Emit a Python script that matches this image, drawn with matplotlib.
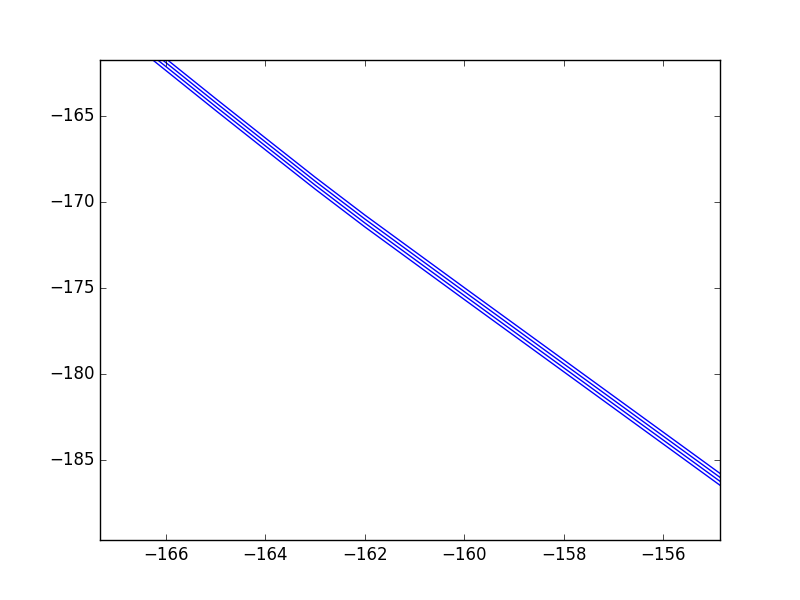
import matplotlib
matplotlib.use("Agg")
import matplotlib.pyplot as plt

plt.style.use("classic")

# x positions shared by all four curves
x_vals = [-167, -166, -165, -164, -163, -162, -161, -160, -159, -158, -157, -156, -155, -154]

# four nearly parallel curves
y_line1 = [-159.34, -161.66, -163.98, -166.27, -168.55, -170.75, -172.86,
           -174.97, -177.07, -179.17, -181.27, -183.37, -185.47, -187.57]
y_line2 = [-159.57, -161.89, -164.21, -166.50, -168.78, -170.98, -173.09,
           -175.20, -177.30, -179.40, -181.50, -183.60, -185.70, -187.80]
y_line3 = [-159.80, -162.12, -164.44, -166.73, -169.01, -171.21, -173.32,
           -175.43, -177.53, -179.63, -181.73, -183.83, -185.93, -188.03]
y_line4 = [-160.03, -162.35, -164.67, -166.96, -169.24, -171.44, -173.55,
           -175.66, -177.76, -179.86, -181.96, -184.06, -186.16, -188.26]

fig = plt.figure(figsize=(8, 6), dpi=100)
ax = fig.add_subplot(111)

for ys in (y_line1, y_line2, y_line3, y_line4):
    ax.plot(x_vals, ys, color="b", linewidth=1.0)

ax.set_xlim(-167.33, -154.85)
ax.set_ylim(-189.66, -161.73)
ax.set_xticks([-166, -164, -162, -160, -158, -156])
ax.set_yticks([-185, -180, -175, -170, -165])

fig.savefig("out.png", dpi=100, facecolor="white")
